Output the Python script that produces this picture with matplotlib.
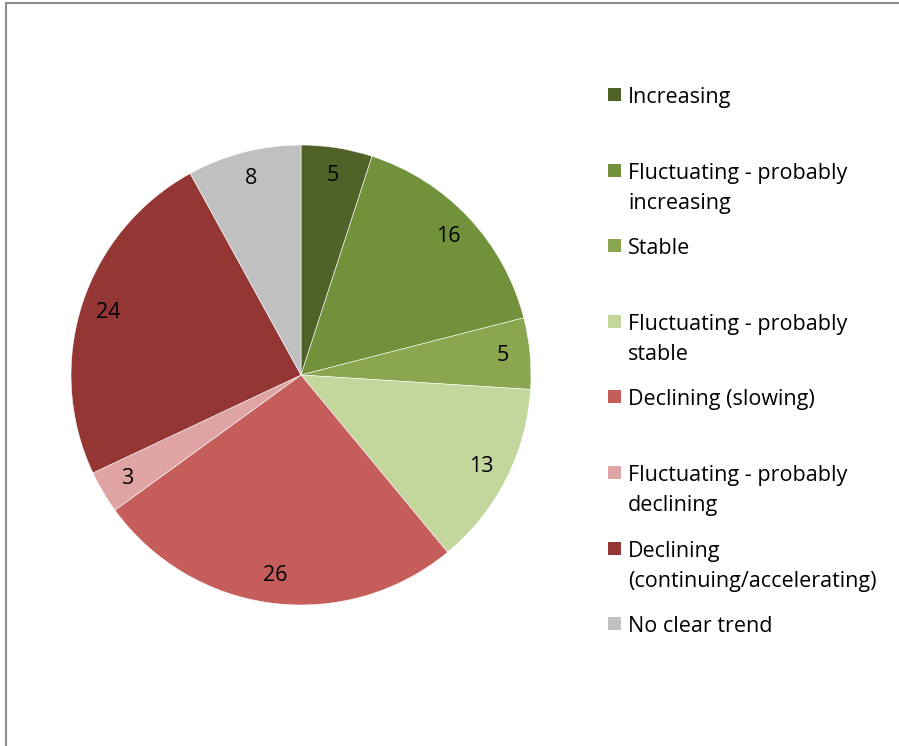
import matplotlib.pyplot as plt
from matplotlib.lines import Line2D
from matplotlib.patches import Rectangle

# datos del grafico
categorias = ['Increasing', 'Fluctuating - probably\nincreasing', 'Stable',
              'Fluctuating - probably\nstable', 'Declining (slowing)',
              'Fluctuating - probably\ndeclining', 'Declining\n(continuing/accelerating)',
              'No clear trend']
valores = [5, 16, 5, 13, 26, 3, 24, 8]
colores = ['#4F6228', '#71913B', '#8AA64F', '#C3D69B',
           '#C55E5B', '#E0A3A3', '#943634', '#C0C0C0']

plt.rcParams['font.family'] = ['Open Sans', 'DejaVu Sans']

W, H = 899, 746
fig = plt.figure(figsize=(W / 100, H / 100), dpi=100)

# ejes del pastel: centro (301, 375) px, radio 230 px
cx, cy, r = 301, 375, 230
ax = fig.add_axes([(cx - r) / W, (H - cy - r) / H, 2 * r / W, 2 * r / H])
ax.pie(valores, colors=colores, startangle=90, counterclock=False,
       autopct=lambda p: '{:.0f}'.format(p * sum(valores) / 100),
       pctdistance=0.88, textprops={'fontsize': 15.5, 'color': 'black'},
       wedgeprops={'edgecolor': 'white', 'linewidth': 0.4})
ax.set_xlim(-1, 1)
ax.set_ylim(-1, 1)
ax.set_aspect('equal')

# leyenda manual (cada renglon por separado)
y0, paso, interlinea = 95, 75.6, 30
for i, (cat, col) in enumerate(zip(categorias, colores)):
    y = y0 + i * paso
    fig.patches.append(Rectangle((608 / W, 1 - (y + 6) / H), 13 / W, 13 / H,
                                 transform=fig.transFigure, facecolor=col,
                                 edgecolor='none'))
    for j, renglon in enumerate(cat.split('\n')):
        fig.text(628 / W, 1 - (y + 8 + j * interlinea) / H, renglon,
                 fontsize=15.5, va='baseline', ha='left')

# borde del area del grafico
fig.lines.append(Line2D([6 / W, 1], [1 - 2.5 / H, 1 - 2.5 / H],
                        transform=fig.transFigure, color='#8C8C8C', lw=1.5))
fig.lines.append(Line2D([6 / W, 6 / W], [0, 1 - 2.5 / H],
                        transform=fig.transFigure, color='#8C8C8C', lw=1.5))

fig.savefig('out.png', dpi=100)
